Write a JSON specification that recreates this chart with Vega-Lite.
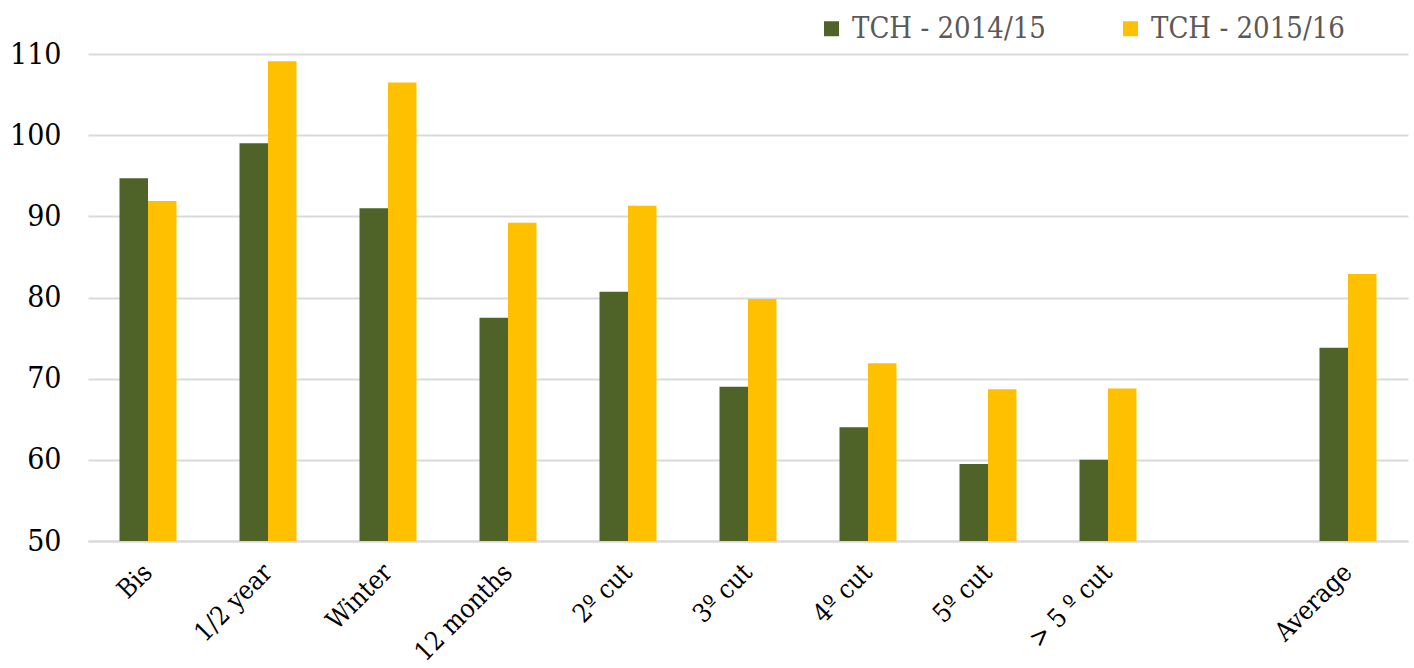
{
  "$schema": "https://vega.github.io/schema/vega-lite/v6.json",
  "width": 1320,
  "height": 487,
  "autosize": {"type": "none"},
  "padding": {"left": 88, "top": 54, "right": 6, "bottom": 127},
  "background": "white",
  "config": {
    "view": {"stroke": null},
    "font": "DejaVu Serif Condensed, Liberation Serif, serif"
  },
  "data": {
    "values": [
      {"cat": "Bis", "series": "TCH - 2014/15", "v": 94.7},
      {"cat": "Bis", "series": "TCH - 2015/16", "v": 91.9},
      {"cat": "1/2 year", "series": "TCH - 2014/15", "v": 99.0},
      {"cat": "1/2 year", "series": "TCH - 2015/16", "v": 109.1},
      {"cat": "Winter", "series": "TCH - 2014/15", "v": 91.0},
      {"cat": "Winter", "series": "TCH - 2015/16", "v": 106.5},
      {"cat": "12 months", "series": "TCH - 2014/15", "v": 77.5},
      {"cat": "12 months", "series": "TCH - 2015/16", "v": 89.2},
      {"cat": "2º cut", "series": "TCH - 2014/15", "v": 80.7},
      {"cat": "2º cut", "series": "TCH - 2015/16", "v": 91.3},
      {"cat": "3º cut", "series": "TCH - 2014/15", "v": 69.0},
      {"cat": "3º cut", "series": "TCH - 2015/16", "v": 79.8},
      {"cat": "4º cut", "series": "TCH - 2014/15", "v": 64.0},
      {"cat": "4º cut", "series": "TCH - 2015/16", "v": 71.9},
      {"cat": "5º cut", "series": "TCH - 2014/15", "v": 59.5},
      {"cat": "5º cut", "series": "TCH - 2015/16", "v": 68.7},
      {"cat": "> 5 º cut", "series": "TCH - 2014/15", "v": 60.0},
      {"cat": "> 5 º cut", "series": "TCH - 2015/16", "v": 68.8},
      {"cat": "Average", "series": "TCH - 2014/15", "v": 73.8},
      {"cat": "Average", "series": "TCH - 2015/16", "v": 82.9}
    ]
  },
  "mark": {"type": "bar", "clip": true},
  "encoding": {
    "x": {
      "field": "cat",
      "type": "nominal",
      "sort": null,
      "scale": {
        "domain": ["Bis", "1/2 year", "Winter", "12 months", "2º cut", "3º cut", "4º cut", "5º cut", "> 5 º cut", " ", "Average"],
        "paddingInner": 0.525,
        "paddingOuter": 0.2625
      },
      "axis": {
        "title": null,
        "labelAngle": -45,
        "labelAlign": "right",
        "labelBaseline": "middle",
        "labelFontSize": 26,
        "labelColor": "#000000",
        "labelPadding": 27,
        "ticks": false,
        "domainColor": "#d9d9d9",
        "domainWidth": 2,
        "grid": false
      }
    },
    "xOffset": {"field": "series", "type": "nominal"},
    "y": {
      "field": "v",
      "type": "quantitative",
      "scale": {"domain": [50, 110], "zero": false, "nice": false},
      "axis": {
        "title": null,
        "values": [50, 60, 70, 80, 90, 100, 110],
        "labelFontSize": 30,
        "labelColor": "#000000",
        "labelPadding": 27,
        "ticks": false,
        "domain": false,
        "gridColor": "#d9d9d9",
        "gridWidth": 2
      }
    },
    "color": {
      "field": "series",
      "type": "nominal",
      "scale": {"range": ["#4F6228", "#FFC000"]},
      "legend": {
        "title": null,
        "orient": "none",
        "legendX": 729,
        "legendY": -40,
        "direction": "horizontal",
        "symbolType": "square",
        "symbolSize": 225,
        "symbolStrokeWidth": 0,
        "labelFontSize": 29,
        "labelColor": "#595959",
        "labelOffset": 6,
        "columnPadding": 70,
        "labelLimit": 400
      }
    }
  }
}
